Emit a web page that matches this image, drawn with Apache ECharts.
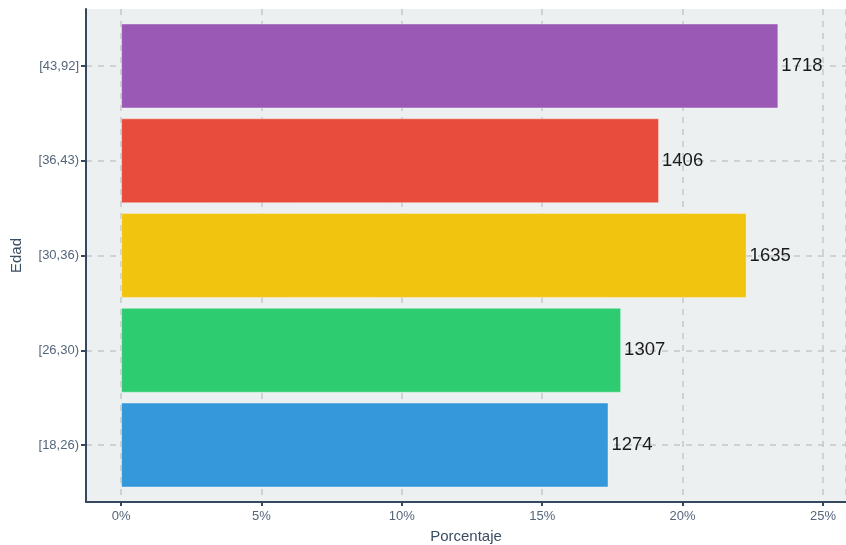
<!DOCTYPE html>
<html>
<head>
<meta charset="utf-8">
<script src="https://cdn.jsdelivr.net/npm/echarts@6/dist/echarts.min.js"></script>
<style>html,body{margin:0;padding:0;background:#fff}#c{width:846px;height:545px}</style>
</head>
<body>
<div id="c"></div>
<script>
const categories = ['[18,26)', '[26,30)', '[30,36)', '[36,43)', '[43,92]'];
const counts = [1274, 1307, 1635, 1406, 1718];
const percentages = [17.36, 17.81, 22.28, 19.16, 23.41];
const colors = ['#3498db', '#2ecc71', '#f1c40f', '#e74c3c', '#9b59b6'];
const xTickSuffix = '%';
const xMin = -1.25, xMax = 25.82;

const chart = echarts.init(document.getElementById('c'), null, {renderer: 'canvas'});
const font = '"Liberation Sans", Arial, sans-serif';
const axisColor = '#34495e';
const tickText = '#55657a';
const titleText = '#3b4d61';
chart.setOption({
  animation: false,
  backgroundColor: '#ffffff',
  grid: [
    {left: 86, right: 0, top: 9, bottom: 43, show: true, backgroundColor: '#ecf0f1', borderWidth: 0, containLabel: false, outerBoundsMode: 'none'},
    {left: 86, right: 0, top: 18.6, bottom: 52.6, show: false, containLabel: false, outerBoundsMode: 'none'}
  ],
  xAxis: [{
    gridIndex: 0, type: 'value', min: xMin, max: xMax,
    name: 'Porcentaje', nameLocation: 'middle', nameGap: 27,
    nameTextStyle: {color: titleText, fontSize: 15, fontFamily: font},
    axisLine: {show: true, onZero: false, lineStyle: {color: axisColor, width: 2}},
    axisTick: {show: true, length: 4, lineStyle: {color: axisColor, width: 2}},
    axisLabel: {color: tickText, fontSize: 13, fontFamily: font, margin: 8, showMinLabel: false, showMaxLabel: false,
      formatter: v => Math.round(v) + xTickSuffix},
    splitLine: {show: true, lineStyle: {color: '#c4c8cb', width: 1.5, type: [6, 6]}}
  }, {
    gridIndex: 1, type: 'value', min: xMin, max: xMax, show: false,
    splitLine: {show: false}
  }],
  yAxis: [{
    gridIndex: 0, type: 'value', min: 0, max: 1,
    name: 'Edad', nameLocation: 'middle', nameGap: 62, nameRotate: 90,
    nameTextStyle: {color: titleText, fontSize: 15, fontFamily: font},
    axisLine: {show: true, onZero: false, lineStyle: {color: axisColor, width: 2}},
    axisTick: {show: false}, axisLabel: {show: false}, splitLine: {show: false}
  }, {
    gridIndex: 1, type: 'category', data: categories,
    axisLine: {show: false, onZero: false},
    axisTick: {show: true, alignWithLabel: true, length: 5, lineStyle: {color: axisColor, width: 2}},
    axisLabel: {color: tickText, fontSize: 13, fontFamily: font, margin: 7},
    splitLine: {show: true, alignWithLabel: true, lineStyle: {color: '#c4c8cb', width: 1.5, type: [6, 6]}}
  }],
  series: [{
    type: 'bar', xAxisIndex: 1, yAxisIndex: 1,
    data: percentages.map((p, i) => ({value: p, itemStyle: {color: colors[i]}})),
    barCategoryGap: '10.5%',
    itemStyle: {borderColor: 'rgba(255,255,255,0.35)', borderWidth: 1},
    label: {show: true, position: 'right', distance: 3, color: '#1a1a1a', fontSize: 18.5, fontFamily: font,
      formatter: p => String(counts[p.dataIndex])},
    z: 3
  }]
});
</script>
</body>
</html>
